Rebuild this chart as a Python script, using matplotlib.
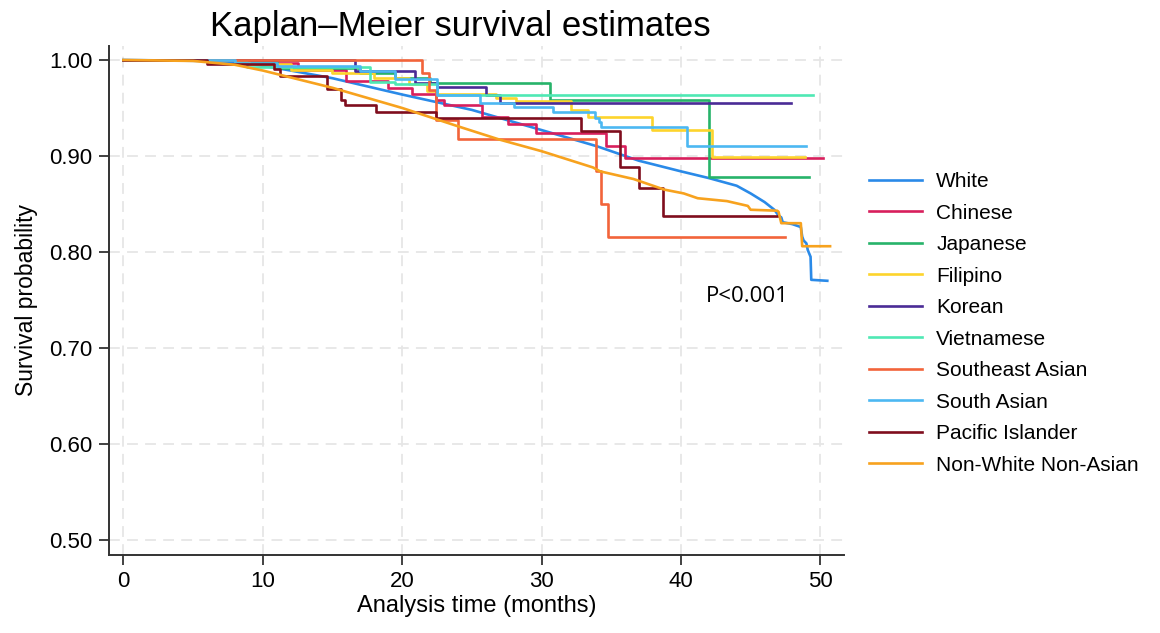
import matplotlib
matplotlib.use("Agg")
import matplotlib.pyplot as plt

plt.rcParams['font.family'] = ['Liberation Sans', 'DejaVu Sans']

# Kaplan-Meier points (time in months, survival).
# White and Non-White Non-Asian have many tiny steps, so they are traced as lines
# (repeated times give the visible drops near the end).
white_t = [0, 6, 8, 10, 12, 15, 20, 25, 30, 34, 37, 40, 42, 43, 44, 45, 46, 46.7, 47.0,
           47.2, 47.3, 48.0, 48.6, 48.7, 48.8, 49.0, 49.1, 49.3, 49.35, 50.5]
white_s = [1.0, 0.999, 0.998, 0.994, 0.989, 0.981, 0.964, 0.948, 0.927, 0.910, 0.895,
           0.884, 0.877, 0.873, 0.869, 0.861, 0.852, 0.844, 0.838, 0.836, 0.831, 0.829,
           0.826, 0.816, 0.812, 0.809, 0.802, 0.795, 0.771, 0.770]

nwna_t = [0, 5, 8, 10, 12.5, 15, 20, 24.2, 27, 30, 33.7, 34.2, 36.6, 38.8, 40.2, 41.2,
          43.3, 44.8, 45.0, 46.9, 47.0, 47.2, 48.6, 48.7, 50.7]
nwna_s = [1.0, 0.999, 0.995, 0.989, 0.980, 0.971, 0.950, 0.930, 0.917, 0.905, 0.888,
          0.884, 0.876, 0.865, 0.861, 0.856, 0.853, 0.848, 0.844, 0.843, 0.842, 0.830,
          0.830, 0.806, 0.806]

chinese_t = [0, 9, 12.5, 16.0, 19.0, 20.7, 22.4, 23.0, 25.7, 27.6, 29.6, 34.6, 36.0, 50.2]
chinese_s = [1.0, 0.997, 0.990, 0.978, 0.971, 0.965, 0.958, 0.953, 0.941, 0.933, 0.924,
             0.910, 0.8975, 0.8975]

japanese_t = [0, 8.5, 11, 17, 19.5, 22.0, 30.6, 42.0, 49.2]
japanese_s = [1.0, 0.998, 0.992, 0.986, 0.981, 0.976, 0.958, 0.878, 0.878]

filipino_t = [0, 9, 12, 15, 18, 20.5, 21.8, 22.5, 26.7, 28.2, 32.1, 33.3, 37.9, 42.2, 48.9]
filipino_s = [1.0, 0.996, 0.990, 0.986, 0.981, 0.975, 0.968, 0.965, 0.960, 0.957, 0.948,
              0.941, 0.927, 0.8985, 0.8985]

korean_t = [0, 16.6, 20.9, 22.5, 26.0, 27.0, 47.9]
korean_s = [1.0, 0.988, 0.976, 0.972, 0.9635, 0.955, 0.955]

vietnamese_t = [0, 8, 8.9, 17.7, 19.5, 22.5, 49.5]
vietnamese_s = [1.0, 0.998, 0.993, 0.977, 0.975, 0.9635, 0.9635]

se_asian_t = [0, 21.4, 21.9, 22.4, 24.0, 33.9, 34.3, 34.8, 47.5]
se_asian_s = [1.0, 0.986, 0.969, 0.938, 0.918, 0.884, 0.850, 0.816, 0.816]

s_asian_t = [0, 8, 11, 17, 19.5, 22.5, 25.6, 28.0, 30.8, 33.8, 34.1, 34.3, 40.4, 49.0]
s_asian_s = [1.0, 0.997, 0.994, 0.988, 0.980, 0.9635, 0.955, 0.951, 0.946, 0.940, 0.935,
             0.930, 0.910, 0.910]

pacific_t = [0, 6.0, 10.8, 11.2, 14.6, 15.6, 15.9, 18.1, 22.4, 32.8, 35.6, 37.0, 38.7, 46.9]
pacific_s = [1.0, 0.9955, 0.991, 0.983, 0.970, 0.958, 0.953, 0.946, 0.940, 0.926, 0.889,
             0.867, 0.8375, 0.8375]

groups = ["White", "Chinese", "Japanese", "Filipino", "Korean", "Vietnamese",
          "Southeast Asian", "South Asian", "Pacific Islander", "Non-White Non-Asian"]
times = [white_t, chinese_t, japanese_t, filipino_t, korean_t, vietnamese_t,
         se_asian_t, s_asian_t, pacific_t, nwna_t]
surv = [white_s, chinese_s, japanese_s, filipino_s, korean_s, vietnamese_s,
        se_asian_s, s_asian_s, pacific_s, nwna_s]
smooth = ["White", "Non-White Non-Asian"]
colors = ["#2a8ae8", "#d81f5c", "#27b36a", "#fdd42c", "#4a2b96", "#4fe8b4",
          "#f2643a", "#4cb8f2", "#7f0d1d", "#f7a21e"]

fig = plt.figure(figsize=(11.6, 6.33), dpi=100)
ax = fig.add_axes([0.094, 0.1237, 0.6336, 0.8043])

for t, s, c, g in zip(times, surv, colors, groups):
    if g in smooth:
        ax.plot(t, s, color=c, lw=1.9, label=g)
    else:
        ax.step(t, s, where="post", color=c, lw=1.9, label=g)

ax.set_xlim(-1.03, 51.7)
ax.set_ylim(0.4847, 1.015)
ax.set_xticks([0, 10, 20, 30, 40, 50])
ax.set_yticks([0.5, 0.6, 0.7, 0.8, 0.9, 1.0])
ax.set_yticklabels([f"{v:.2f}" for v in [0.5, 0.6, 0.7, 0.8, 0.9, 1.0]])
ax.grid(True, color="#e6e6e6", lw=1.3, ls=(0, (6, 4)))
ax.set_axisbelow(True)
for side in ["top", "right"]:
    ax.spines[side].set_visible(False)
for side in ["left", "bottom"]:
    ax.spines[side].set_color("#333333")
    ax.spines[side].set_linewidth(1.4)
ax.tick_params(direction="out", length=7, width=1.3, color="#333333",
               labelsize=16, pad=5)

ax.set_xlabel("Analysis time (months)", fontsize=17, labelpad=2)
ax.set_ylabel("Survival probability", fontsize=16.5, labelpad=8)
fig.text(0.397, 0.958, "Kaplan\u2013Meier survival estimates", fontsize=25,
         ha="center", va="center")

ax.text(41.8, 0.754, "P<0.001", fontsize=16, family=["Open Sans", "DejaVu Sans"],
        ha="left", va="center")

fig.legend(loc="center left", bbox_to_anchor=(0.733, 0.489), frameon=False,
           fontsize=15, handlelength=2.55, handletextpad=0.67, labelspacing=0.6)

fig.savefig("out.png", dpi=100)
